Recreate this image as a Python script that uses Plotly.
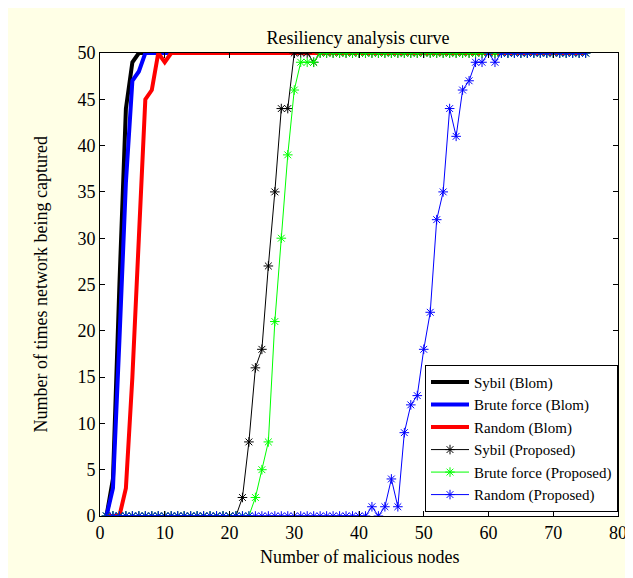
import plotly.graph_objects as go

# ---- data ----
nodes = list(range(1, 76))

sybil_blom = [0, 4, 25, 44, 49, 50, 50, 50, 50, 50, 50, 50, 50, 50, 50,
              50, 50, 50, 50, 50, 50, 50, 50, 50, 50, 50, 50, 50, 50, 50,
              50, 50, 50, 50, 50, 50, 50, 50, 50, 50, 50, 50, 50, 50, 50,
              50, 50, 50, 50, 50, 50, 50, 50, 50, 50, 50, 50, 50, 50, 50,
              50, 50, 50, 50, 50, 50, 50, 50, 50, 50, 50, 50, 50, 50, 50]

brute_blom = [0, 3, 19, 36, 47, 48, 50, 50, 50, 50, 50, 50, 50, 50, 50,
              50, 50, 50, 50, 50, 50, 50, 50, 50, 50, 50, 50, 50, 50, 50,
              50, 50, 50, 50, 50, 50, 50, 50, 50, 50, 50, 50, 50, 50, 50,
              50, 50, 50, 50, 50, 50, 50, 50, 50, 50, 50, 50, 50, 50, 50,
              50, 50, 50, 50, 50, 50, 50, 50, 50, 50, 50, 50, 50, 50, 50]

random_blom = [0, 0, 0, 3, 15, 30, 45, 46, 50, 49, 50, 50, 50, 50, 50,
               50, 50, 50, 50, 50, 50, 50, 50, 50, 50, 50, 50, 50, 50, 50,
               50, 50, 50, 50, 50, 50, 50, 50, 50, 50, 50, 50, 50, 50, 50,
               50, 50, 50, 50, 50, 50, 50, 50, 50, 50, 50, 50, 50, 50, 50,
               50, 50, 50, 50, 50, 50, 50, 50, 50, 50, 50, 50, 50, 50, 50]

sybil_prop = [0, 0, 0, 0, 0, 0, 0, 0, 0, 0, 0, 0, 0, 0, 0,
              0, 0, 0, 0, 0, 0, 2, 8, 16, 18, 27, 35, 44, 44, 50,
              50, 50, 49, 50, 50, 50, 50, 50, 50, 50, 50, 50, 50, 50, 50,
              50, 50, 50, 50, 50, 50, 50, 50, 50, 50, 50, 50, 50, 50, 50,
              50, 50, 50, 50, 50, 50, 50, 50, 50, 50, 50, 50, 50, 50, 50]

brute_prop = [0, 0, 0, 0, 0, 0, 0, 0, 0, 0, 0, 0, 0, 0, 0,
              0, 0, 0, 0, 0, 0, 0, 0, 2, 5, 8, 21, 30, 39, 46,
              49, 49, 49, 50, 50, 50, 50, 50, 50, 50, 50, 50, 50, 50, 50,
              50, 50, 50, 50, 50, 50, 50, 50, 50, 50, 50, 50, 50, 50, 50,
              50, 50, 50, 50, 50, 50, 50, 50, 50, 50, 50, 50, 50, 50, 50]

random_prop = [0, 0, 0, 0, 0, 0, 0, 0, 0, 0, 0, 0, 0, 0, 0,
               0, 0, 0, 0, 0, 0, 0, 0, 0, 0, 0, 0, 0, 0, 0,
               0, 0, 0, 0, 0, 0, 0, 0, 0, 0, 0, 1, 0, 1, 4,
               1, 9, 12, 13, 18, 22, 32, 35, 44, 41, 46, 47, 49, 49, 50,
               49, 50, 50, 50, 50, 50, 50, 50, 50, 50, 50, 50, 50, 50, 50]

x_ticks = [0, 10, 20, 30, 40, 50, 60, 70, 80]
y_ticks = [0, 5, 10, 15, 20, 25, 30, 35, 40, 45, 50]

FONT = "Liberation Serif"

fig = go.Figure()

blom = [("Sybil (Blom)", sybil_blom, "#000000"),
        ("Brute force (Blom)", brute_blom, "#0000FF"),
        ("Random (Blom)", random_blom, "#FF0000")]
for name, ys, col in blom:
    fig.add_trace(go.Scatter(x=nodes, y=ys, name=name, mode="lines",
                             line=dict(color=col, width=4)))

prop = [("Sybil (Proposed)", sybil_prop, "#000000"),
        ("Brute force (Proposed)", brute_prop, "#00FF00"),
        ("Random (Proposed)", random_prop, "#0000FF")]
for name, ys, col in prop:
    fig.add_trace(go.Scatter(x=nodes, y=ys, name=name, mode="lines+markers",
                             line=dict(color=col, width=1),
                             marker=dict(symbol="asterisk-open", size=8,
                                         color=col,
                                         line=dict(color=col, width=1))))

axis_common = dict(showline=True, linecolor="black", linewidth=1,
                   mirror="ticks", ticks="inside", ticklen=5,
                   tickcolor="black", showgrid=False, zeroline=False,
                   automargin=False,
                   tickfont=dict(family=FONT, size=18, color="black"))

fig.update_xaxes(range=[0, 80], tickvals=x_ticks, **axis_common)
fig.update_yaxes(range=[0, 50], tickvals=y_ticks, **axis_common)

fig.update_layout(
    width=633, height=578,
    margin=dict(l=92, r=23, t=45, b=70),
    paper_bgcolor="#FFFFE6",
    plot_bgcolor="white",
    font=dict(family=FONT, color="black"),
    title=dict(text="Resiliency analysis curve", x=(358 - 8) / 633,
               xanchor="center",
               y=1 - 30 / 578, yanchor="middle", yref="container",
               font=dict(family=FONT, size=18, color="black")),
    showlegend=True,
    legend=dict(x=1, y=0.009, xanchor="right", yanchor="bottom",
                bgcolor="white", bordercolor="black", borderwidth=1,
                font=dict(family=FONT, size=15, color="black"),
                tracegroupgap=0, itemwidth=38),
    annotations=[
        dict(text="Number of malicious nodes", xref="paper", yref="paper",
             x=0.5, y=(516 - 557) / 463, xanchor="center", yanchor="middle",
             showarrow=False, font=dict(family=FONT, size=18, color="black")),
        dict(text="Number of times network being captured", xref="paper",
             yref="paper", x=(40 - 100) / 518, y=0.5, xanchor="center",
             yanchor="middle", textangle=-90, showarrow=False,
             font=dict(family=FONT, size=18, color="black")),
    ],
)

fig.write_html("out.html")
